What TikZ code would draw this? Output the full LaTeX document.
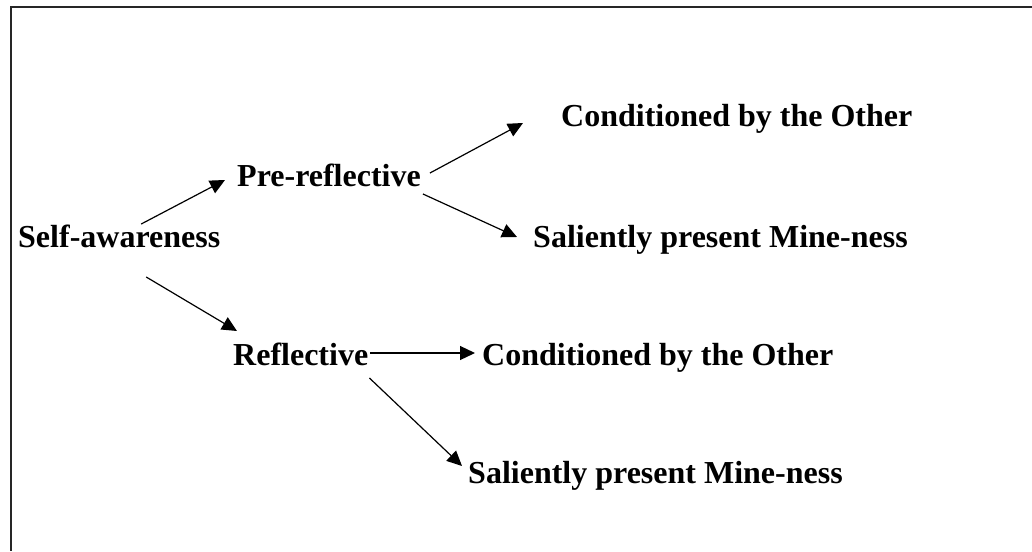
\documentclass[tikz,border=0pt]{standalone}
\usepackage{fontspec}
\setmainfont{Liberation Serif}
\usetikzlibrary{arrows.meta}
\usetikzlibrary{calc}

\begin{document}
\begin{tikzpicture}[x=1pt, y=-1pt]
        % ================= Styles =================
        \tikzset{
            concept/.style={anchor=base west, inner sep=0pt, font=\bfseries\fontsize{32}{38}\selectfont},
            link_arrow/.style={line width=1.2pt, -{Triangle[length=15pt, width=14pt]}},
            frame_line/.style={line width=2pt, black!85}
        }

        \useasboundingbox (0,0) rectangle (1032,551);

        % ================= Frame (top and left edge) =================
        \draw[frame_line] (1032,7) -- (11,7) -- (11,551);

        % ================= Texts =================
        \node[concept] (self) at (18,247) {Self-awareness};
        \node[concept] (pre) at (237,186) {Pre-reflective};
        \node[concept] (refl) at (233,365) {Reflective};

        \node[concept] (condtop) at (561,126) {Conditioned by the Other};
        \node[concept] (saltop) at (533,247) {Saliently present Mine-ness};
        \node[concept] (condmid) at (482,365) {Conditioned by the Other};
        \node[concept] (salbot) at (468,483) {Saliently present Mine-ness};

        % ================= Arrows =================
        % 1. from self-awareness to both kinds
        \draw[link_arrow] ($(self.base)+(22,-23)$) -- ($(pre.base west)+(-12,-6)$);
        \draw[link_arrow] ($(self.base)+(27,30)$) -- ($(refl.base west)+(4,-34)$);
        % 2. pre-reflective branch
        \draw[link_arrow] ($(pre.base east)+(9,-13)$) -- ($(condtop.base west)+(-38,-3)$);
        \draw[link_arrow] ($(pre.base east)+(2,8)$) -- ($(saltop.base west)+(-16,-10)$);
        % 3. reflective branch
        \draw[link_arrow] ($(refl.base east)+(2,-12)$) -- ($(condmid.base west)+(-7,-12)$);
        \draw[link_arrow] ($(refl.base east)+(1,13)$) -- ($(salbot.base west)+(-6,-17)$);

    \end{tikzpicture}
\end{document}
